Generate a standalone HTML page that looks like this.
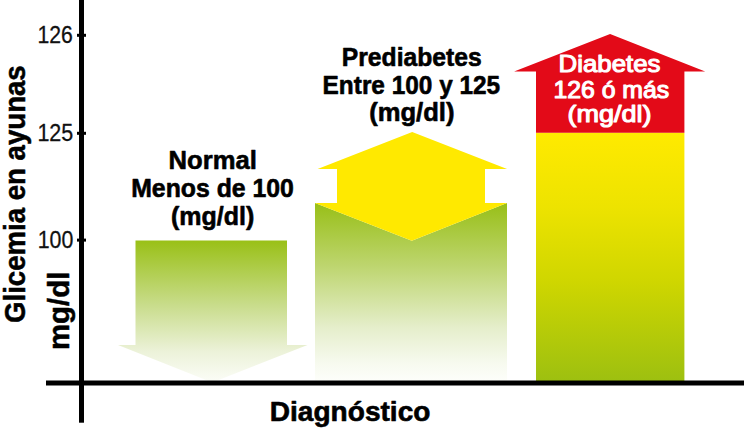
<!DOCTYPE html>
<html><head><meta charset="utf-8">
<style>
html,body{margin:0;padding:0;background:#fff;}
body{width:744px;height:428px;overflow:hidden;}
svg{display:block;}
text{font-family:"Liberation Sans",sans-serif;}
</style></head>
<body>
<svg width="744" height="428" viewBox="0 0 744 428">
<defs>
<linearGradient id="gN" x1="0" y1="240" x2="0" y2="383" gradientUnits="userSpaceOnUse">
<stop offset="0" stop-color="#99c016"/>
<stop offset="0.45" stop-color="#c8dc8a"/>
<stop offset="0.78" stop-color="#ecf2d9"/>
<stop offset="1" stop-color="#fcfdf8"/>
</linearGradient>
<linearGradient id="gP" x1="0" y1="203" x2="0" y2="381" gradientUnits="userSpaceOnUse">
<stop offset="0" stop-color="#98bf17"/>
<stop offset="0.35" stop-color="#bdd56e"/>
<stop offset="0.7" stop-color="#e5eecb"/>
<stop offset="0.9" stop-color="#f7faef"/>
<stop offset="1" stop-color="#fdfefa"/>
</linearGradient>
<linearGradient id="gD" x1="0" y1="133" x2="0" y2="381" gradientUnits="userSpaceOnUse">
<stop offset="0" stop-color="#ffea00"/>
<stop offset="0.3" stop-color="#ede300"/>
<stop offset="0.6" stop-color="#cfd600"/>
<stop offset="1" stop-color="#9dc010"/>
</linearGradient>
</defs>
<polygon fill="url(#gN)" points="135.5,240.5 287,240.5 287,345 307.5,345 212.3,382.5 118,345 135.5,345"/>
<polygon fill="url(#gP)" points="315,203 411.8,240.7 507,203 507,381 315,381"/>
<polygon fill="#ffe900" points="317.6,169 412.2,132.1 507.1,169 485,169 485,203 507,203 411.8,240.7 315,203 337,203 337,169"/>
<rect x="536" y="132.7" width="148.4" height="248.5" fill="url(#gD)"/>
<polygon fill="#e30a18" points="514.1,71.6 610.1,33.9 705.2,71.5 684.4,71.5 684.4,132.7 536,132.7 536,71.6"/>
<rect x="79" y="0" width="5" height="422.7" fill="#000"/>
<rect x="46" y="380.5" width="698" height="5" fill="#000"/>
<rect x="77" y="33.8" width="9" height="3" fill="#000"/>
<rect x="77" y="131.8" width="9" height="3" fill="#000"/>
<rect x="77" y="238.6" width="9" height="3" fill="#000"/>
<text x="37.50" y="43.00" font-size="24.70" font-weight="normal" fill="#111" textLength="35.40" lengthAdjust="spacingAndGlyphs" stroke="#111" stroke-width="0.3" stroke-linejoin="round">126</text>
<text x="37.40" y="141.00" font-size="24.70" font-weight="normal" fill="#111" textLength="35.90" lengthAdjust="spacingAndGlyphs" stroke="#111" stroke-width="0.3" stroke-linejoin="round">125</text>
<text x="37.70" y="247.80" font-size="24.70" font-weight="normal" fill="#111" textLength="35.60" lengthAdjust="spacingAndGlyphs" stroke="#111" stroke-width="0.3" stroke-linejoin="round">100</text>
<text transform="translate(24.90,323.00) rotate(-90)" x="0" y="0" font-size="30.00" font-weight="bold" fill="#000" textLength="257.70" lengthAdjust="spacingAndGlyphs" stroke="#000" stroke-width="0.5" stroke-linejoin="round">Glicemia en ayunas</text>
<text transform="translate(68.50,350.00) rotate(-90)" x="0" y="0" font-size="30.00" font-weight="bold" fill="#000" textLength="78.30" lengthAdjust="spacingAndGlyphs" stroke="#000" stroke-width="0.5" stroke-linejoin="round">mg/dl</text>
<text x="168.60" y="168.80" font-size="26.00" font-weight="bold" fill="#000" textLength="88.30" lengthAdjust="spacingAndGlyphs" stroke="#000" stroke-width="0.6" stroke-linejoin="round">Normal</text>
<text x="131.20" y="196.50" font-size="26.00" font-weight="bold" fill="#000" textLength="162.70" lengthAdjust="spacingAndGlyphs" stroke="#000" stroke-width="0.6" stroke-linejoin="round">Menos de 100</text>
<text x="171.00" y="224.50" font-size="26.00" font-weight="bold" fill="#000" textLength="83.30" lengthAdjust="spacingAndGlyphs" stroke="#000" stroke-width="0.6" stroke-linejoin="round">(mg/dl)</text>
<text x="341.80" y="65.90" font-size="26.00" font-weight="bold" fill="#000" textLength="139.90" lengthAdjust="spacingAndGlyphs" stroke="#000" stroke-width="0.6" stroke-linejoin="round">Prediabetes</text>
<text x="322.60" y="93.90" font-size="26.00" font-weight="bold" fill="#000" textLength="177.60" lengthAdjust="spacingAndGlyphs" stroke="#000" stroke-width="0.6" stroke-linejoin="round">Entre 100 y 125</text>
<text x="369.20" y="120.50" font-size="26.00" font-weight="bold" fill="#000" textLength="85.30" lengthAdjust="spacingAndGlyphs" stroke="#000" stroke-width="0.6" stroke-linejoin="round">(mg/dl)</text>
<text x="558.60" y="72.40" font-size="24.00" font-weight="normal" fill="#fff" textLength="101.90" lengthAdjust="spacingAndGlyphs" stroke="#fff" stroke-width="1.1" stroke-linejoin="round">Diabetes</text>
<text x="553.40" y="98.20" font-size="24.00" font-weight="normal" fill="#fff" textLength="115.80" lengthAdjust="spacingAndGlyphs" stroke="#fff" stroke-width="1.1" stroke-linejoin="round">126 ó más</text>
<text x="567.40" y="122.00" font-size="24.00" font-weight="normal" fill="#fff" textLength="84.10" lengthAdjust="spacingAndGlyphs" stroke="#fff" stroke-width="1.1" stroke-linejoin="round">(mg/dl)</text>
<text x="269.80" y="420.60" font-size="27.60" font-weight="bold" fill="#000" textLength="160.60" lengthAdjust="spacingAndGlyphs" stroke="#000" stroke-width="0.6" stroke-linejoin="round">Diagnóstico</text>
</svg>
</body></html>
